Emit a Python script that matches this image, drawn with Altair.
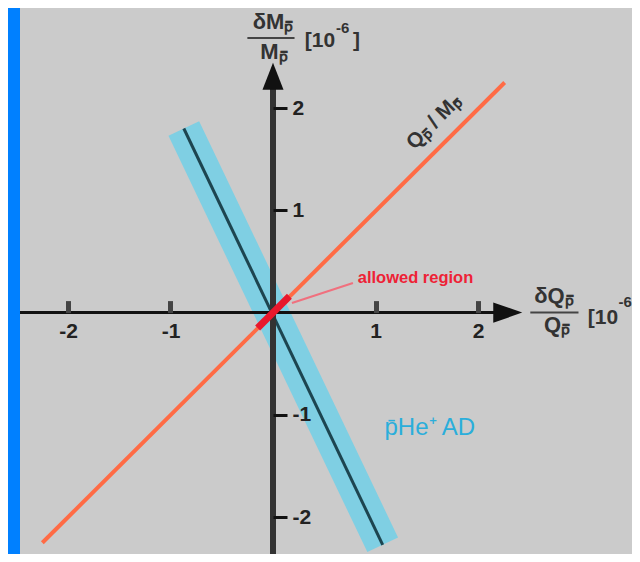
import altair as alt
import pandas as pd

# ---- data (data units, 10^-6) ----
x_domain = [-2.468, 3.502]
y_domain = [-2.360, 2.978]
tick_values = [-2, -1, 1, 2]

qm_x = [-2.25, 2.26]          # Q/M line  (y = x)
qm_y = [-2.25, 2.25]
band_x = [-0.87, 1.07]        # pHe+ AD band centre line
band_y = [1.80, -2.27]
allowed_x = [-0.15, 0.16]     # allowed region
allowed_y = [-0.15, 0.16]
pointer_x = [0.185, 0.78]     # pointer to label
pointer_y = [0.094, 0.29]
xaxis_x = [-2.468, 2.16]      # drawn axis lines
xaxis_y = [0, 0]
yaxis_x = [0, 0]
yaxis_y = [-2.36, 2.19]
xarrow = [2.29, 0]
yarrow = [0, 2.31]
ytitle_bar_x = [-0.25, 0.21]
ytitle_bar_y = [2.684, 2.684]
xtitle_bar_x = [2.51, 2.98]
xtitle_bar_y = [0, 0]

sub = "\u209a\u0304"  # subscript p with bar

frac_texts = [
    # text, x, y
    ("δM" + sub, 0.0, 2.84),
    ("M" + sub, 0.01, 2.55),
    ("δQ" + sub, 2.74, 0.165),
    ("Q" + sub, 2.77, -0.125),
]
unit_texts = [
    ("[10", 0.31, 2.66),
    ("]", 0.78, 2.66),
    ("[10", 3.07, -0.05),
]
exp_texts = [
    ("-6", 0.615, 2.78),
    ("-6", 3.37, 0.10),
]

xscale = alt.Scale(domain=x_domain, nice=False, zero=False)
yscale = alt.Scale(domain=y_domain, nice=False, zero=False)

xaxis = alt.Axis(orient="top", offset=-304.6, values=tick_values, domain=False, grid=False,
                 tickSize=12, tickWidth=5, tickColor="#444444", labelPadding=-20,
                 labelBaseline="top", labelFontSize=21, labelFont="Liberation Sans",
                 labelFontWeight="bold", labelColor="#222222", labelExpr="datum.value + ''",
                 title="", zindex=1)
yaxis = alt.Axis(orient="right", offset=-359, values=tick_values, domain=False, grid=False,
                 tickSize=14, tickWidth=3, tickColor="#111111", labelPadding=5,
                 labelFontSize=21, labelFont="Liberation Sans", labelFontWeight="bold",
                 labelColor="#222222", labelExpr="datum.value + ''", title="", zindex=1)


def enc(ch):
    return ch.encode(x=alt.X("x:Q", scale=xscale, axis=xaxis),
                     y=alt.Y("y:Q", scale=yscale, axis=yaxis))


def df(xs, ys):
    return pd.DataFrame({"x": xs, "y": ys})


band = enc(alt.Chart(df(band_x, band_y)).mark_line(color="#7fcfe3", strokeWidth=34, strokeCap="butt"))
band_c = enc(alt.Chart(df(band_x, band_y)).mark_line(color="#1d4550", strokeWidth=3))
xline = enc(alt.Chart(df(xaxis_x, xaxis_y)).mark_line(color="#111111", strokeWidth=3))
yline = enc(alt.Chart(df(yaxis_x, yaxis_y)).mark_line(color="#333333", strokeWidth=6))
xarr = enc(alt.Chart(df([xarrow[0]], [xarrow[1]])).mark_point(
    shape="M1,0L-1,-0.7L-1,0.7Z", filled=True, size=841, color="#111111", opacity=1))
yarr = enc(alt.Chart(df([yarrow[0]], [yarrow[1]])).mark_point(
    shape="M0,-1L0.78,1L-0.78,1Z", filled=True, size=729, color="#111111", opacity=1))
qm = enc(alt.Chart(df(qm_x, qm_y)).mark_line(color="#ff6b45", strokeWidth=4))
allowed = enc(alt.Chart(df(allowed_x, allowed_y)).mark_line(color="#e8182c", strokeWidth=7))
pointer = enc(alt.Chart(df(pointer_x, pointer_y)).mark_line(color="#f0707e", strokeWidth=2))
ybar = enc(alt.Chart(df(ytitle_bar_x, ytitle_bar_y)).mark_line(color="#444444", strokeWidth=2))
xbar = enc(alt.Chart(df(xtitle_bar_x, xtitle_bar_y)).mark_line(color="#444444", strokeWidth=2))

frac = enc(alt.Chart(pd.DataFrame(frac_texts, columns=["t", "x", "y"])).mark_text(
    font="Liberation Sans", fontSize=22, fontWeight="bold", color="#333333")).encode(text="t:N")
units = enc(alt.Chart(pd.DataFrame(unit_texts, columns=["t", "x", "y"])).mark_text(
    font="Liberation Sans", fontSize=21, fontWeight="bold", color="#333333",
    align="left")).encode(text="t:N")
exps = enc(alt.Chart(pd.DataFrame(exp_texts, columns=["t", "x", "y"])).mark_text(
    font="Liberation Sans", fontSize=15, fontWeight="bold", color="#333333",
    align="left")).encode(text="t:N")

qm_lab = enc(alt.Chart(pd.DataFrame({"t": ["Q" + sub + " / M" + sub], "x": [1.57], "y": [1.86]}))
             .mark_text(font="Liberation Sans", fontSize=21, fontWeight="bold", color="#333333",
                        angle=315)).encode(text="t:N")
allowed_lab = enc(alt.Chart(pd.DataFrame({"t": ["allowed region"], "x": [1.39], "y": [0.338]}))
                  .mark_text(font="Liberation Sans", fontSize=16.5, fontWeight="bold",
                             color="#ee2236")).encode(text="t:N")
phe_lab = enc(alt.Chart(pd.DataFrame({"t": ["p\u0304He\u207a AD"], "x": [1.53], "y": [-1.13]}))
              .mark_text(font="Liberation Sans", fontSize=24, color="#2aaedb")).encode(text="t:N")

chart = alt.layer(band, band_c, xline, yline, xarr, yarr, qm, allowed, pointer, ybar, xbar,
                  frac, units, exps, qm_lab, allowed_lab, phe_lab).properties(
    width=612, height=546,
    padding={"left": 12, "top": 0, "right": 0, "bottom": 0},
    autosize=alt.AutoSizeParams(type="none"),
    background="#0080ff",
).configure_view(fill="#cbcbcb", strokeWidth=0)

chart.save("out.html", embed_options={"renderer": "svg", "actions": False})
